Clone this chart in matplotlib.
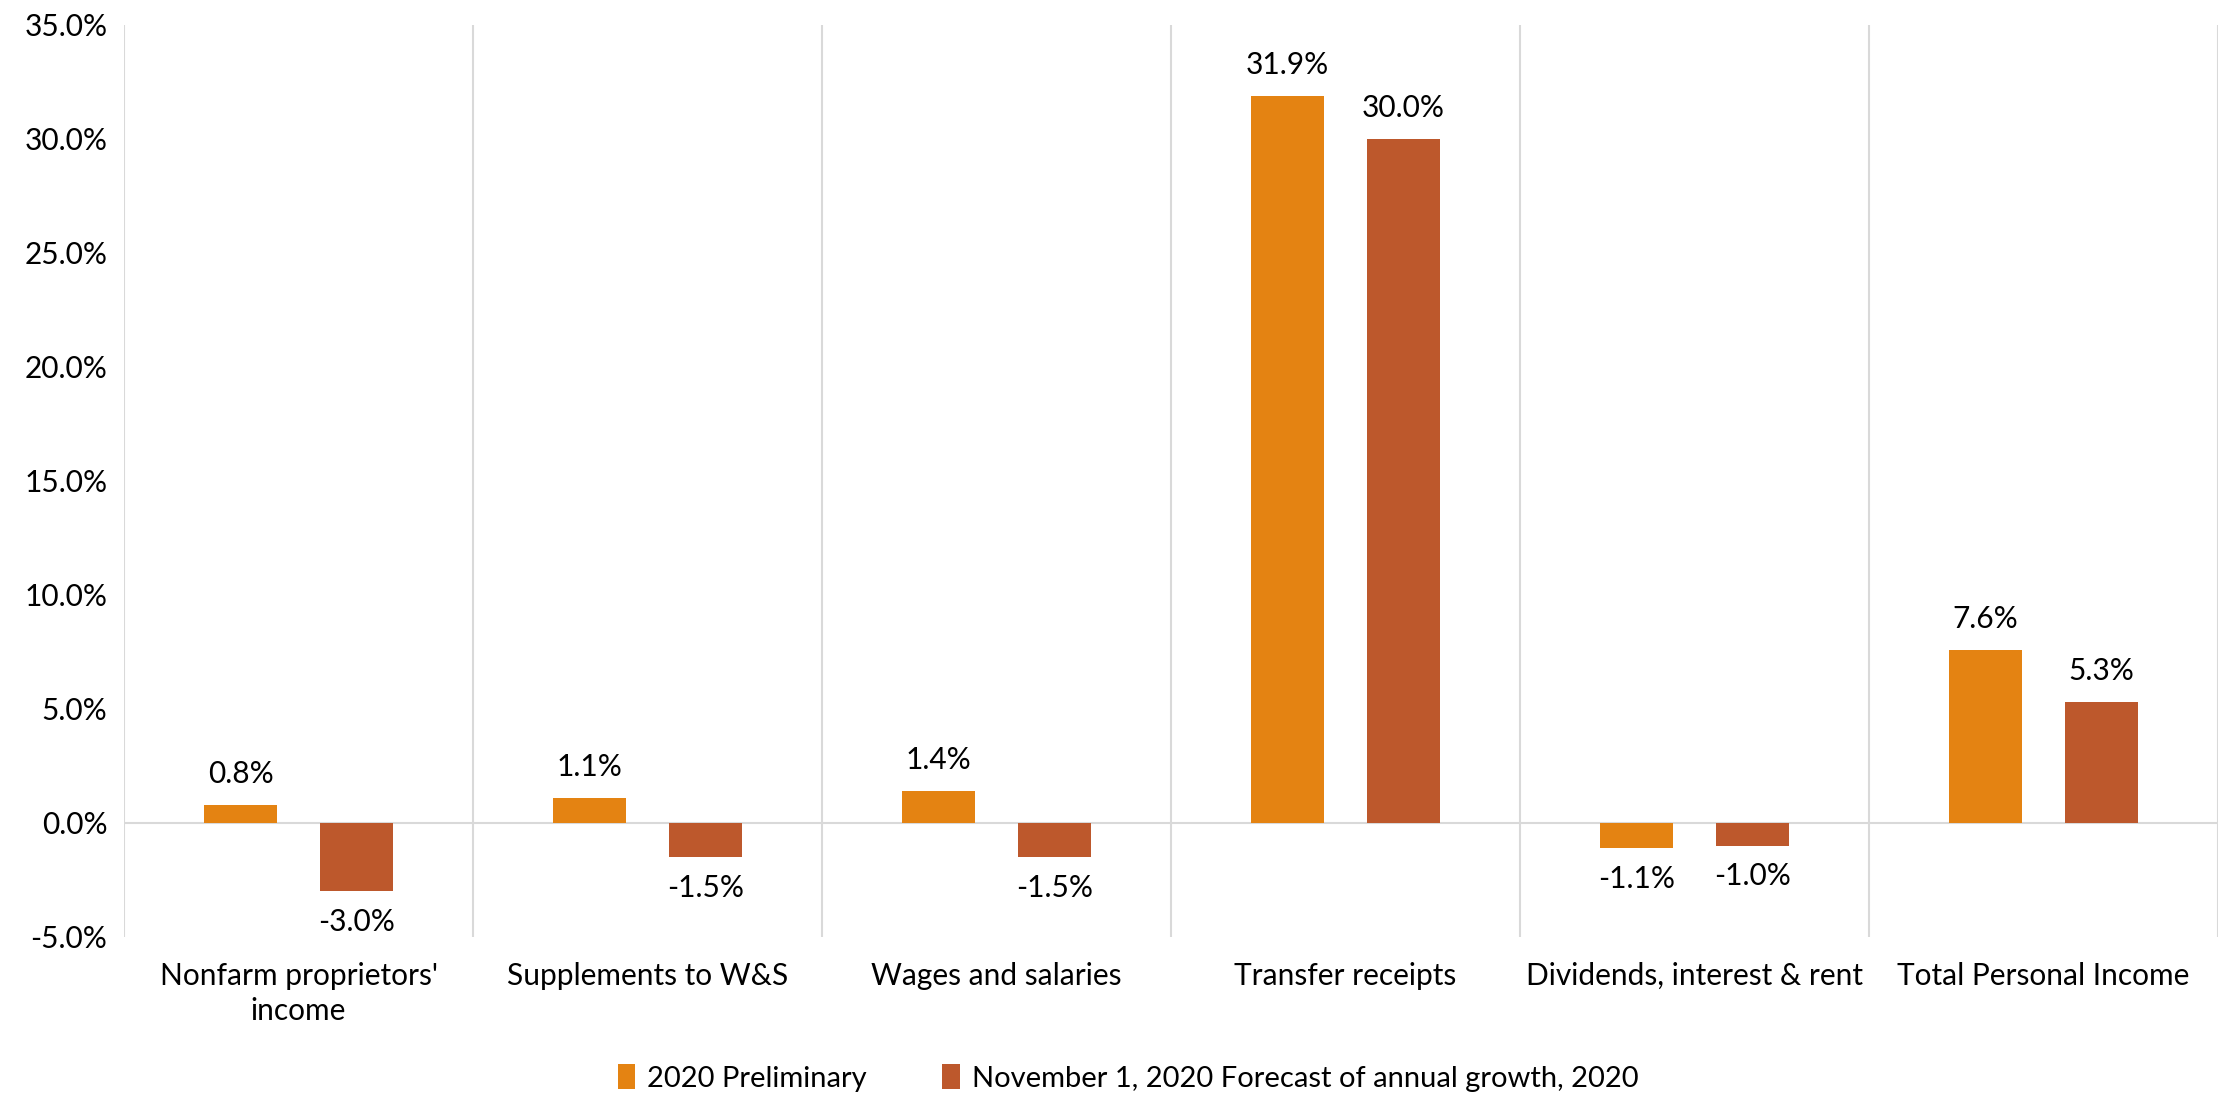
import numpy as np
import matplotlib
matplotlib.use("Agg")
import matplotlib.pyplot as plt
from matplotlib.ticker import FuncFormatter

plt.rcParams['font.family'] = ['Lato', 'DejaVu Sans']

# data
categories = ["Nonfarm proprietors'\nincome", "Supplements to W&S", "Wages and salaries",
              "Transfer receipts", "Dividends, interest & rent", "Total Personal Income"]
prelim = [0.8, 1.1, 1.4, 31.9, -1.1, 7.6]
forecast = [-3.0, -1.5, -1.5, 30.0, -1.0, 5.3]
series_names = ["2020 Preliminary", "November 1, 2020 Forecast of annual growth, 2020"]
colors = ["#E48312", "#BD582C"]

fs = 21.5

fig = plt.figure(figsize=(22.19, 10.97), dpi=100)
ax = fig.add_axes([124/2219, 1 - 937/1097, (2218 - 124)/2219, (937 - 25)/1097])

x = np.arange(len(categories))
w = 0.209
off = 0.166
b1 = ax.bar(x - off, prelim, w, color=colors[0], label=series_names[0], zorder=3)
b2 = ax.bar(x + off, forecast, w, color=colors[1], label=series_names[1], zorder=3)

ax.set_xlim(-0.5, len(categories) - 0.5)
ax.set_ylim(-5, 35)
ax.set_yticks(np.arange(-5, 36, 5))
ax.yaxis.set_major_formatter(FuncFormatter(lambda v, p: f"{v:.1f}%"))
ax.set_xticks(x)
ax.set_xticklabels(categories, fontsize=fs, linespacing=1.3)
ax.tick_params(axis='both', length=0, labelsize=fs)
ax.tick_params(axis='x', pad=18)
ax.tick_params(axis='y', pad=12)

for s in ax.spines.values():
    s.set_visible(False)

# separators between categories and zero line
for xs in np.arange(-0.5, len(categories), 1.0):
    ax.axvline(xs, color="#D9D9D9", lw=1.5, zorder=1)
ax.axhline(0, color="#D9D9D9", lw=1.5, zorder=2)

for bars, vals in [(b1, prelim), (b2, forecast)]:
    for r, v in zip(bars, vals):
        if v >= 0:
            ax.annotate(f"{v:.1f}%", (r.get_x() + r.get_width()/2, v), xytext=(0, 12),
                        textcoords="offset points", ha="center", va="bottom", fontsize=fs)
        else:
            ax.annotate(f"{v:.1f}%", (r.get_x() + r.get_width()/2, v), xytext=(0, -12),
                        textcoords="offset points", ha="center", va="top", fontsize=fs)

fig.legend(handles=[b1, b2], labels=series_names, loc="center", ncol=2,
           bbox_to_anchor=(1128/2219, 1 - 1078/1097), frameon=False, fontsize=21,
           handlelength=0.6, handleheight=0.9, handletextpad=0.4, columnspacing=2.6)

fig.savefig("out.png", dpi=100)
